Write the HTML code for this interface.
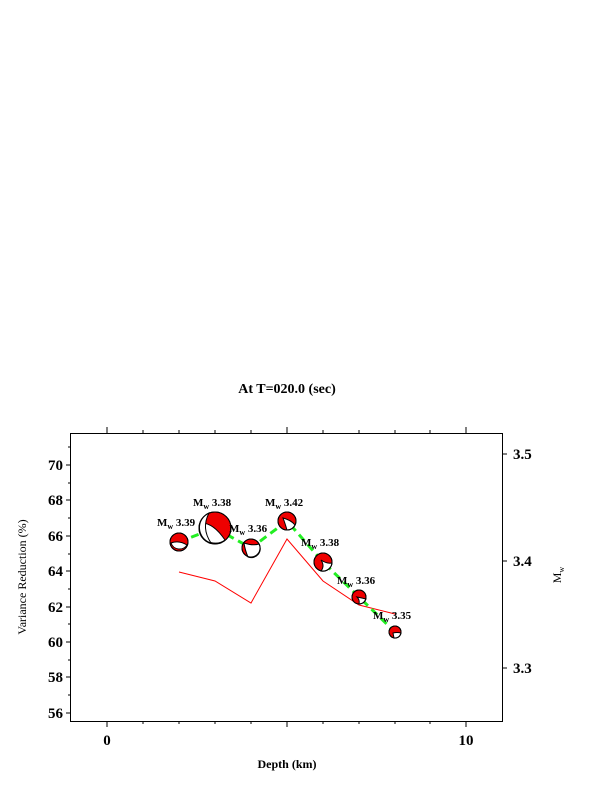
<!DOCTYPE html>
<html><head><style>
body{margin:0;background:#fff;}
svg{display:block;font-family:"Liberation Serif",serif;font-weight:bold;}
</style></head><body>
<svg width="612" height="792" viewBox="0 0 612 792" xmlns="http://www.w3.org/2000/svg">
<text x="287" y="393" font-size="14" text-anchor="middle">At T=020.0 (sec)</text>
<rect x="70.5" y="433.5" width="432" height="288" fill="none" stroke="#000" stroke-width="1"/>
<g stroke="#000" stroke-width="1">
<path d="M107 433v-6M287 433v-6M466 433v-6M107 721v6M287 721v6M466 721v6"/>
<path d="M143 433v-3M179 433v-3M215 433v-3M251 433v-3M323 433v-3M359 433v-3M395 433v-3M430 433v-3M143 721v3M179 721v3M215 721v3M251 721v3M323 721v3M359 721v3M395 721v3M430 721v3"/>
<path d="M70 465h-4M70 500h-4M70 536h-4M70 571h-4M70 607h-4M70 642h-4M70 677h-4M70 713h-4"/>
<path d="M70 447h-2M70 483h-2M70 518h-2M70 554h-2M70 589h-2M70 624h-2M70 660h-2M70 695h-2"/>
<path d="M502 454h5M502 561h5M502 668h5"/>
</g>
<g font-size="15">
<text x="63" y="470" text-anchor="end">70</text>
<text x="63" y="505" text-anchor="end">68</text>
<text x="63" y="541" text-anchor="end">66</text>
<text x="63" y="576" text-anchor="end">64</text>
<text x="63" y="612" text-anchor="end">62</text>
<text x="63" y="647" text-anchor="end">60</text>
<text x="63" y="682" text-anchor="end">58</text>
<text x="63" y="718" text-anchor="end">56</text>
<text x="513" y="459">3.5</text>
<text x="513" y="566">3.4</text>
<text x="513" y="673">3.3</text>
<text x="107" y="745" text-anchor="middle">0</text>
<text x="466" y="745" text-anchor="middle">10</text>
</g>
<text x="287" y="768" font-size="12" text-anchor="middle">Depth (km)</text>
<text transform="translate(26,577) rotate(-90)" font-size="12" font-weight="normal" text-anchor="middle">Variance Reduction (%)</text>
<text transform="translate(561,575) rotate(-90)" font-size="12" font-weight="normal" text-anchor="middle">M<tspan font-size="8" dy="3">w</tspan></text>
<polyline points="179,572 215,581 251,603 287,539 323,581 359,605 395,614" fill="none" stroke="#f00" stroke-width="1"/>
<polyline points="179,542 215,528 251,548 287,521 323,562 359,597 395,632" fill="none" stroke="#2e2" stroke-width="3" stroke-dasharray="8,5"/>
<g stroke="#000" stroke-width="1">
<g transform="translate(179,542)"><circle r="9" fill="#e00"/><path d="M-8,1 Q0,-2 8,3 A9,9 0 0 1 -8,1Z" fill="#fff"/><circle r="9" fill="none"/></g>
<g transform="translate(215,528)"><circle r="16" fill="#e00"/><path d="M-15,-5 Q-2,-6 10,12 A16,16 0 0 1 -15,-5Z" fill="#fff"/><path d="M-6,-15 Q-14,0 -4,15 A16,16 0 0 1 -6,-15Z" fill="#fff"/><circle r="16" fill="none"/></g>
<g transform="translate(251,548)"><circle r="9" fill="#e00"/><path d="M-7,-5 Q2,-2 8,-4 A9,9 0 0 1 -3,9 Q-6,2 -7,-5Z" fill="#fff"/><circle r="9" fill="none"/></g>
<g transform="translate(287,521)"><circle r="9" fill="#e00"/><path d="M-4,-3 Q4,-1 8,4 A9,9 0 0 1 0,9 Q-2,2 -4,-3Z" fill="#fff"/><circle r="9" fill="none"/></g>
<g transform="translate(323,562)"><circle r="9" fill="#e00"/><path d="M-2,-2 Q4,2 9,1 A9,9 0 0 1 -2,9 Q2,4 -2,-2Z" fill="#fff"/><circle r="9" fill="none"/></g>
<g transform="translate(359,597)"><circle r="7" fill="#e00"/><path d="M-2,0 Q3,1 7,2 A7,7 0 0 1 0,7 Q1,3 -2,0Z" fill="#fff"/><circle r="7" fill="none"/></g>
<g transform="translate(395,632)"><circle r="6" fill="#e00"/><path d="M-2,1 Q2,0 6,1 A6,6 0 0 1 -1,6Z" fill="#fff"/><circle r="6" fill="none"/></g>
</g>
<g font-size="11">
<text x="157" y="526">M<tspan font-size="8" dy="3">w</tspan><tspan dy="-3"> 3.39</tspan></text>
<text x="193" y="506">M<tspan font-size="8" dy="3">w</tspan><tspan dy="-3"> 3.38</tspan></text>
<text x="229" y="532">M<tspan font-size="8" dy="3">w</tspan><tspan dy="-3"> 3.36</tspan></text>
<text x="265" y="506">M<tspan font-size="8" dy="3">w</tspan><tspan dy="-3"> 3.42</tspan></text>
<text x="301" y="546">M<tspan font-size="8" dy="3">w</tspan><tspan dy="-3"> 3.38</tspan></text>
<text x="337" y="584">M<tspan font-size="8" dy="3">w</tspan><tspan dy="-3"> 3.36</tspan></text>
<text x="373" y="619">M<tspan font-size="8" dy="3">w</tspan><tspan dy="-3"> 3.35</tspan></text>
</g>
</svg>
</body></html>
